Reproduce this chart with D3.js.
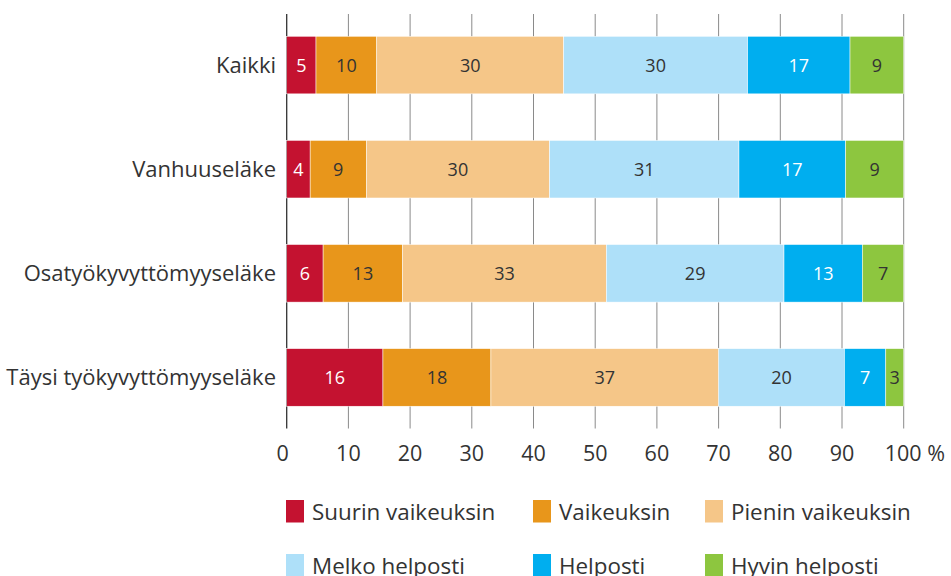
<!DOCTYPE html>
<html>
<head>
<meta charset="utf-8">
<script src="https://cdn.jsdelivr.net/npm/d3@7"></script>
<style>
  body { margin: 0; background: #fff; }
  svg text { font-family: "Open Sans", sans-serif; fill: #333; }
</style>
</head>
<body>
<svg id="chart" width="951" height="576"></svg>
<script>
// data (percent, each row sums to ~100)
var categories = ["Kaikki", "Vanhuuseläke", "Osatyökyvyttömyyseläke", "Täysi työkyvyttömyyseläke"];
var seriesNames = ["Suurin vaikeuksin", "Vaikeuksin", "Pienin vaikeuksin", "Melko helposti", "Helposti", "Hyvin helposti"];
var suurin  = [4.75, 3.8, 5.9, 15.6];
var vaikeuk = [9.85, 9.1, 12.9, 17.5];
var pienin  = [30.3, 29.7, 33.0, 36.9];
var melko   = [29.8, 30.7, 28.8, 20.4];
var helposti = [16.6, 17.3, 12.7, 6.7];
var hyvin   = [8.7, 9.4, 6.7, 2.9];
var xTicks = [0, 10, 20, 30, 40, 50, 60, 70, 80, 90, 100];

var colors = ["#c41230", "#e8961b", "#f5c688", "#aee0f9", "#00aeef", "#8dc63f"];
var whiteText = [true, false, false, false, true, false];

var seriesValues = [suurin, vaikeuk, pienin, melko, helposti, hyvin];

var svg = d3.select("#chart");
var plotTop = 14, plotBottom = 428.5;

var x = d3.scaleLinear().domain([0, 100]).range([286.7, 903.7]);
var y = d3.scaleBand().domain(categories).range([plotTop, plotBottom])
  .paddingInner(0.447).paddingOuter(0.214);

// gridlines (they also work as the tick marks under the bars)
svg.append("g")
  .selectAll("line")
  .data(xTicks)
  .enter().append("line")
    .attr("x1", function(d) { return x(d); })
    .attr("x2", function(d) { return x(d); })
    .attr("y1", plotTop)
    .attr("y2", plotBottom)
    .attr("stroke", function(d) { return d === 0 ? "#333" : "#8a8a8a"; })
    .attr("stroke-width", function(d) { return d === 0 ? 1.3 : 1; });

// stacked rows
var rows = categories.map(function(c, i) {
  var start = 0;
  return seriesValues.map(function(s, j) {
    var seg = { cat: c, k: j, v: s[i], x0: start, x1: start + s[i] };
    start += s[i];
    return seg;
  });
});

var segs = svg.append("g").selectAll("g.row")
  .data(rows)
  .enter().append("g").attr("class", "row")
  .selectAll("g.seg")
  .data(function(d) { return d; })
  .enter().append("g").attr("class", "seg");

segs.append("rect")
  .attr("x", function(d) { return x(d.x0); })
  .attr("y", function(d) { return y(d.cat); })
  .attr("width", function(d) { return x(d.x1) - x(d.x0); })
  .attr("height", y.bandwidth())
  .attr("fill", function(d) { return colors[d.k]; })
  .attr("stroke", "#fff")
  .attr("stroke-width", 0.5);

segs.append("text")
  .attr("x", function(d) { return (x(d.x0) + x(d.x1)) / 2; })
  .attr("y", function(d) { return y(d.cat) + y.bandwidth() / 2; })
  .attr("dy", "0.36em")
  .attr("text-anchor", "middle")
  .style("font-size", "18px")
  .style("fill", function(d) { return whiteText[d.k] ? "#fff" : "#333"; })
  .text(function(d) { return Math.round(d.v); });

// category labels
svg.append("g")
  .selectAll("text")
  .data(categories)
  .enter().append("text")
    .attr("x", 276)
    .attr("y", function(d) { return y(d) + y.bandwidth() / 2; })
    .attr("dy", "0.36em")
    .attr("text-anchor", "end")
    .style("font-size", "22px")
    .text(function(d) { return d; });

// x tick labels
svg.append("g")
  .selectAll("text")
  .data(xTicks)
  .enter().append("text")
    .attr("x", function(d) { return d === 100 ? x(d) - 19 : (d === 0 ? x(d) - 4 : x(d)); })
    .attr("y", 461)
    .attr("text-anchor", function(d) { return d === 100 ? "start" : "middle"; })
    .style("font-size", "21.5px")
    .text(function(d) { return d === 100 ? "100 %" : d; });

// legend, 3 per row
var legendX = [286, 533, 705];
var legendY = [500, 554];
var legend = svg.append("g")
  .selectAll("g")
  .data(seriesNames)
  .enter().append("g")
    .attr("transform", function(d, i) {
      return "translate(" + legendX[i % 3] + "," + legendY[Math.floor(i / 3)] + ")";
    });

legend.append("rect")
  .attr("width", 18)
  .attr("height", 22.5)
  .attr("fill", function(d, i) { return colors[i]; });

legend.append("text")
  .attr("x", 26)
  .attr("y", 11.5)
  .attr("dy", "0.36em")
  .style("font-size", "22.4px")
  .text(function(d) { return d; });
</script>
</body>
</html>
